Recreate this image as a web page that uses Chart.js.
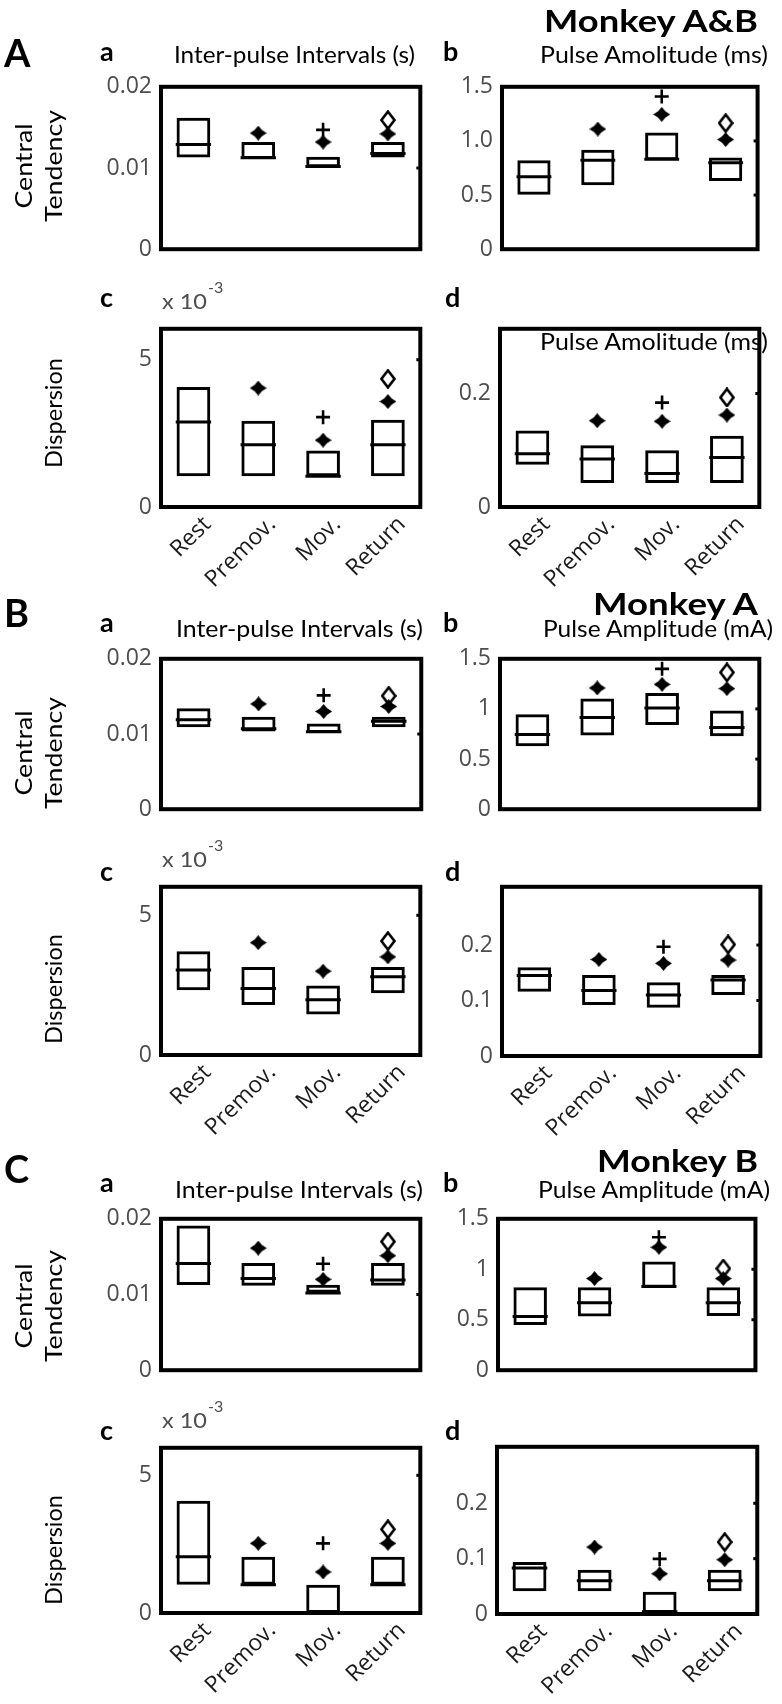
<!DOCTYPE html>
<html>
<head>
<meta charset="utf-8">
<script src="https://cdn.jsdelivr.net/npm/chart.js@4.4.1/dist/chart.umd.min.js"></script>
<style>
  body { margin: 0; background: #fff; }
  #fig { position: relative; width: 782px; height: 1704px; overflow: hidden; }
  #fig canvas { position: absolute; }
  #labels { position: absolute; left: 0; top: 0; z-index: 2; pointer-events: none; font-family: Lato, sans-serif; }
</style>
</head>
<body>
<div id="fig">
  <svg id="labels" width="782" height="1704"></svg>
</div>
<script>
// categories + tick labels
const cats = ['Rest', 'Premov.', 'Mov.', 'Return'];
const ipiTicks = [0, 0.01, 0.02];
const ipiTickLabels = ['0', '0.01', '0.02'];
const ampTicks = [0, 0.5, 1, 1.5];
const ampTickLabelsAB = ['0', '0.5', '1.0', '1.5'];
const ampTickLabels = ['0', '0.5', '1', '1.5'];
const dispTicks = [0, 5];          // x 10^-3
const dispTickLabels = ['0', '5'];
const ampDispTicksAB = [0, 0.2];
const ampDispTickLabelsAB = ['0', '0.2'];
const ampDispTicks = [0, 0.1, 0.2];
const ampDispTickLabels = ['0', '0.1', '0.2'];

// Monkey A&B
const abIpiLo   = [0.0113, 0.0111, 0.0101, 0.0113];
const abIpiHi   = [0.0162, 0.0132, 0.0114, 0.0132];
const abIpiMed  = [0.0129, 0.01125, 0.0102, 0.0118];
const abIpiStar = [null, 0.0143, 0.0132, 0.0142];
const abIpiPlus = [null, null, 0.0147, null];
const abIpiDiam = [null, null, null, 0.0159];

const abAmpLo   = [0.503, 0.590, 0.822, 0.630];
const abAmpHi   = [0.822, 0.918, 1.077, 0.846];
const abAmpMed  = [0.670, 0.822, 0.830, 0.798];
const abAmpStar = [null, 1.11, 1.245, 1.013];
const abAmpPlus = [null, null, 1.41, null];
const abAmpDiam = [null, null, null, 1.165];

const abIpiDLo   = [1.04, 1.04, 1.04, 1.04];
const abIpiDHi   = [4.07, 2.93, 1.92, 2.96];
const abIpiDMed  = [2.89, 2.11, 1.04, 2.11];
const abIpiDStar = [null, 4.04, 2.27, 3.58];
const abIpiDPlus = [null, null, 3.05, null];
const abIpiDDiam = [null, null, null, 4.35];

const abAmpDLo   = [0.0745, 0.0425, 0.0425, 0.0425];
const abAmpDHi   = [0.135, 0.109, 0.100, 0.1255];
const abAmpDMed  = [0.094, 0.0845, 0.059, 0.0874];
const abAmpDStar = [null, 0.152, 0.151, 0.162];
const abAmpDPlus = [null, null, 0.184, null];
const abAmpDDiam = [null, null, null, 0.193];

// Monkey A
const maIpiLo   = [0.0109, 0.01032, 0.01013, 0.0109];
const maIpiHi   = [0.01343, 0.0123, 0.01138, 0.0123];
const maIpiMed  = [0.0119, 0.0107, 0.0103, 0.0117];
const maIpiStar = [null, 0.0140, 0.0130, 0.01366];
const maIpiPlus = [null, null, 0.01514, null];
const maIpiDiam = [null, null, null, 0.01507];

const maAmpLo   = [0.628, 0.736, 0.84, 0.728];
const maAmpHi   = [0.948, 1.104, 1.16, 0.985];
const maAmpMed  = [0.744, 0.914, 1.01, 0.815];
const maAmpStar = [null, 1.209, 1.245, 1.203];
const maAmpPlus = [null, null, 1.40, null];
const maAmpDiam = [null, null, null, 1.364];

const maIpiDLo   = [2.32, 1.79, 1.45, 2.21];
const maIpiDHi   = [3.71, 3.15, 2.49, 3.15];
const maIpiDMed  = [3.04, 2.38, 1.98, 2.80];
const maIpiDStar = [null, 4.02, 3.0, 3.51];
const maIpiDPlus = [null, null, null, null];
const maIpiDDiam = [null, null, null, 4.08];

const maAmpDLo   = [0.116, 0.092, 0.087, 0.110];
const maAmpDHi   = [0.160, 0.146, 0.133, 0.146];
const maAmpDMed  = [0.145, 0.118, 0.110, 0.137];
const maAmpDStar = [null, 0.174, 0.167, 0.173];
const maAmpDPlus = [null, null, 0.197, null];
const maAmpDDiam = [null, null, null, 0.201];

// Monkey B
const mbIpiLo   = [0.01124, 0.01117, 0.01022, 0.01117];
const mbIpiHi   = [0.01913, 0.01417, 0.01128, 0.01417];
const mbIpiMed  = [0.0141, 0.0121, 0.0102, 0.0119];
const mbIpiStar = [null, 0.01613, 0.0120, 0.01512];
const mbIpiPlus = [null, null, 0.01406, null];
const mbIpiDiam = [null, null, null, 0.01699];

const mbAmpLo   = [0.448, 0.533, 0.817, 0.536];
const mbAmpHi   = [0.823, 0.823, 1.077, 0.823];
const mbAmpMed  = [0.533, 0.668, 0.830, 0.668];
const mbAmpStar = [null, 0.908, 1.218, 0.908];
const mbAmpPlus = [null, null, 1.317, null];
const mbAmpDiam = [null, null, null, 1.007];

const mbIpiDLo   = [1.03, 1.03, 0, 1.03];
const mbIpiDHi   = [4.08, 2.04, 1.03, 2.04];
const mbIpiDMed  = [2.04, 1.03, 0.02, 1.03];
const mbIpiDStar = [null, 2.53, 1.49, 2.53];
const mbIpiDPlus = [null, null, 2.53, null];
const mbIpiDDiam = [null, null, null, 3.04];

const mbAmpDLo   = [0.041, 0.041, 0.002, 0.041];
const mbAmpDHi   = [0.094, 0.080, 0.040, 0.080];
const mbAmpDMed  = [0.083, 0.060, 0.004, 0.060];
const mbAmpDStar = [null, 0.121, 0.0726, 0.098];
const mbAmpDPlus = [null, null, 0.0995, null];
const mbAmpDDiam = [null, null, null, 0.130];

const fig = document.getElementById('fig');
const svg = document.getElementById('labels');

// marker glyphs
function makeStar() {
  const c = document.createElement('canvas');
  c.width = 17; c.height = 15;
  const g = c.getContext('2d');
  const cx = 8.5, cy = 7.5, rx = 8.5, ry = 7.5, k = 0.42;
  g.beginPath();
  g.moveTo(cx, cy - ry);
  g.lineTo(cx + rx * k, cy - ry * k);
  g.lineTo(cx + rx, cy);
  g.lineTo(cx + rx * k, cy + ry * k);
  g.lineTo(cx, cy + ry);
  g.lineTo(cx - rx * k, cy + ry * k);
  g.lineTo(cx - rx, cy);
  g.lineTo(cx - rx * k, cy - ry * k);
  g.closePath();
  g.fillStyle = '#000';
  g.fill();
  return c;
}
function makeDiamond() {
  const c = document.createElement('canvas');
  c.width = 16; c.height = 20;
  const g = c.getContext('2d');
  g.lineWidth = 2.6;
  g.strokeStyle = '#000';
  g.beginPath();
  g.moveTo(8, 1.5); g.lineTo(14.5, 10); g.lineTo(8, 18.5); g.lineTo(1.5, 10);
  g.closePath();
  g.stroke();
  return c;
}
const starImg = makeStar();
const diamImg = makeDiamond();

// black box around the plot + little inward ticks on the right
const frame = {
  id: 'frame',
  afterDatasetsDraw(chart) {
    const { ctx, chartArea: a } = chart;
    const y = chart.scales.y;
    ctx.save();
    ctx.strokeStyle = '#000';
    ctx.lineWidth = 4;
    ctx.strokeRect(a.left, a.top, a.right - a.left, a.bottom - a.top);
    ctx.lineWidth = 3;
    y.ticks.forEach(t => {
      if (t.value <= y.min || t.value >= y.max) return;
      const py = y.getPixelForValue(t.value);
      ctx.beginPath();
      ctx.moveTo(a.right, py);
      ctx.lineTo(a.right - 4, py);
      ctx.stroke();
    });
    ctx.restore();
  }
};

function panel(g, yMax, ticks, tickLabels, lo, hi, med, star, plus, diam, showX) {
  const yw = 70, tp = 14, rp = 8, xh = showX ? 90 : 6;
  const c = document.createElement('canvas');
  c.width = g.w + yw + rp;
  c.height = g.h + tp + xh;
  c.style.left = (g.x - yw) + 'px';
  c.style.top = (g.y - tp) + 'px';
  fig.insertBefore(c, svg);
  const boxW = 0.52;
  new Chart(c, {
    type: 'bar',
    data: {
      labels: cats,
      datasets: [
        { type: 'bar', data: lo.map((v, i) => [v, hi[i]]), backgroundColor: 'rgba(0,0,0,0)',
          borderColor: '#000', borderWidth: 3, borderSkipped: false,
          categoryPercentage: boxW, barPercentage: 1 },
        { type: 'line', data: med, showLine: false, pointStyle: 'line',
          pointRadius: g.w / 4 * boxW / 2, pointBorderColor: '#000', pointBorderWidth: 3 },
        { type: 'line', data: star, showLine: false, pointStyle: starImg, pointRadius: 7 },
        { type: 'line', data: plus, showLine: false, pointStyle: 'cross', pointRadius: 7,
          pointBorderColor: '#000', pointBorderWidth: 2.6 },
        { type: 'line', data: diam, showLine: false, pointStyle: diamImg, pointRadius: 8 }
      ]
    },
    options: {
      responsive: false,
      animation: false,
      events: [],
      layout: { padding: { top: tp, right: rp, left: 0, bottom: 0 } },
      plugins: { legend: { display: false }, tooltip: { enabled: false } },
      scales: {
        x: {
          grid: { display: false, drawTicks: false },
          border: { display: false },
          ticks: { display: showX, autoSkip: false, minRotation: 45, maxRotation: 45,
                   labelOffset: 14, padding: 4, color: '#1a1a1a',
                   font: { family: 'Open Sans', size: 23 } },
          afterFit: s => { s.height = xh; }
        },
        y: {
          min: 0, max: yMax,
          grid: { display: false, drawTicks: false },
          border: { display: false },
          afterBuildTicks: s => { s.ticks = ticks.map(v => ({ value: v })); },
          ticks: { padding: 9, color: '#4d4d4d', font: { family: 'Open Sans', size: 23 },
                   callback: v => tickLabels[ticks.indexOf(v)] },
          afterFit: s => { s.width = yw; }
        }
      }
    },
    plugins: [frame]
  });
}

// section A: Monkey A&B
panel({ x: 161, y: 78, w: 272, h: 188 }, 0.02, ipiTicks, ipiTickLabels,
      abIpiLo, abIpiHi, abIpiMed, abIpiStar, abIpiPlus, abIpiDiam, false);
panel({ x: 502, y: 78, w: 268, h: 188 }, 1.5, ampTicks, ampTickLabelsAB,
      abAmpLo, abAmpHi, abAmpMed, abAmpStar, abAmpPlus, abAmpDiam, false);
panel({ x: 161, y: 320, w: 272, h: 187 }, 6.05, dispTicks, dispTickLabels,
      abIpiDLo, abIpiDHi, abIpiDMed, abIpiDStar, abIpiDPlus, abIpiDDiam, true);
panel({ x: 500, y: 320, w: 272, h: 187 }, 0.314, ampDispTicksAB, ampDispTickLabelsAB,
      abAmpDLo, abAmpDHi, abAmpDMed, abAmpDStar, abAmpDPlus, abAmpDDiam, true);

// section B: Monkey A
panel({ x: 161, y: 650, w: 273, h: 176 }, 0.02, ipiTicks, ipiTickLabels,
      maIpiLo, maIpiHi, maIpiMed, maIpiStar, maIpiPlus, maIpiDiam, false);
panel({ x: 500, y: 650, w: 272, h: 176 }, 1.5, ampTicks, ampTickLabels,
      maAmpLo, maAmpHi, maAmpMed, maAmpStar, maAmpPlus, maAmpDiam, false);
panel({ x: 161, y: 878, w: 272, h: 177 }, 6.02, dispTicks, dispTickLabels,
      maIpiDLo, maIpiDHi, maIpiDMed, maIpiDStar, maIpiDPlus, maIpiDDiam, true);
panel({ x: 502, y: 878, w: 271, h: 178 }, 0.305, ampDispTicks, ampDispTickLabels,
      maAmpDLo, maAmpDHi, maAmpDMed, maAmpDStar, maAmpDPlus, maAmpDDiam, true);

// section C: Monkey B
panel({ x: 161, y: 1210, w: 272, h: 177 }, 0.02, ipiTicks, ipiTickLabels,
      mbIpiLo, mbIpiHi, mbIpiMed, mbIpiStar, mbIpiPlus, mbIpiDiam, false);
panel({ x: 498, y: 1210, w: 270, h: 177 }, 1.5, ampTicks, ampTickLabels,
      mbAmpLo, mbAmpHi, mbAmpMed, mbAmpStar, mbAmpPlus, mbAmpDiam, false);
panel({ x: 161, y: 1439, w: 272, h: 174 }, 6.0, dispTicks, dispTickLabels,
      mbIpiDLo, mbIpiDHi, mbIpiDMed, mbIpiDStar, mbIpiDPlus, mbIpiDDiam, true);
panel({ x: 497, y: 1438, w: 273, h: 176 }, 0.302, ampDispTicks, ampDispTickLabels,
      mbAmpDLo, mbAmpDHi, mbAmpDMed, mbAmpDStar, mbAmpDPlus, mbAmpDDiam, true);

// text
function txt(s, x, y, o) {
  o = o || {};
  const t = document.createElementNS('http://www.w3.org/2000/svg', 'text');
  t.textContent = s;
  t.setAttribute('x', x);
  t.setAttribute('y', y);
  t.setAttribute('font-size', o.size || 22);
  t.setAttribute('font-weight', o.bold ? 'bold' : 'normal');
  t.setAttribute('text-anchor', o.anchor || 'start');
  t.setAttribute('fill', o.color || '#000');
  if (o.len) {
    t.setAttribute('textLength', o.len);
    t.setAttribute('lengthAdjust', 'spacingAndGlyphs');
  }
  if (o.rot) t.setAttribute('transform', `rotate(${o.rot} ${x} ${y})`);
  svg.appendChild(t);
}

function section(letter, monkey, monkeyX, monkeyLen, ampTitle, ampX, ampLen, o) {
  txt(letter, 4, o.letterY, { size: 38, bold: true });
  txt('a', 100, o.aY, { size: 27, bold: true });
  txt('Inter-pulse Intervals (s)', o.ipiX, o.titleY, { size: 23, len: o.ipiLen });
  txt('b', 443, o.aY, { size: 27, bold: true });
  txt(monkey, monkeyX, o.monkeyY, { size: 31, bold: true, len: monkeyLen });
  txt(ampTitle, ampX, o.titleY, { size: 23, len: ampLen });
  txt('Central', 32, o.ctY, { size: 23, anchor: 'middle', rot: -90, len: 85 });
  txt('Tendency', 62, o.ctY, { size: 23, anchor: 'middle', rot: -90, len: 112 });
  txt('c', 100, o.cY, { size: 27, bold: true });
  txt('d', 445, o.cY, { size: 27, bold: true });
  txt('x 10', 162, o.expY, { size: 21, color: '#4d4d4d', len: 45 });
  txt('-3', 208, o.expY - 16, { size: 16, color: '#4d4d4d' });
  txt('Dispersion', 62, o.dY, { size: 23, anchor: 'middle', rot: -90, len: 110 });
}

section('A', 'Monkey A&B', 544, 214, 'Pulse Amolitude (ms)', 540, 228,
  { letterY: 67, aY: 61, titleY: 63, ipiX: 174, ipiLen: 241, monkeyY: 32,
    ctY: 166, cY: 307, expY: 309, dY: 413 });
txt('Pulse Amolitude (ms)', 540, 350, { size: 23, len: 228 });

section('B', 'Monkey A', 593, 165, 'Pulse Amplitude (mA)', 543, 230,
  { letterY: 627, aY: 632, titleY: 637, ipiX: 176, ipiLen: 247, monkeyY: 615,
    ctY: 753, cY: 881, expY: 867, dY: 989 });

section('C', 'Monkey B', 597, 161, 'Pulse Amplitude (mA)', 538, 232,
  { letterY: 1183, aY: 1192, titleY: 1198, ipiX: 175, ipiLen: 248, monkeyY: 1172,
    ctY: 1306, cY: 1440, expY: 1428, dY: 1550 });
</script>
</body>
</html>
